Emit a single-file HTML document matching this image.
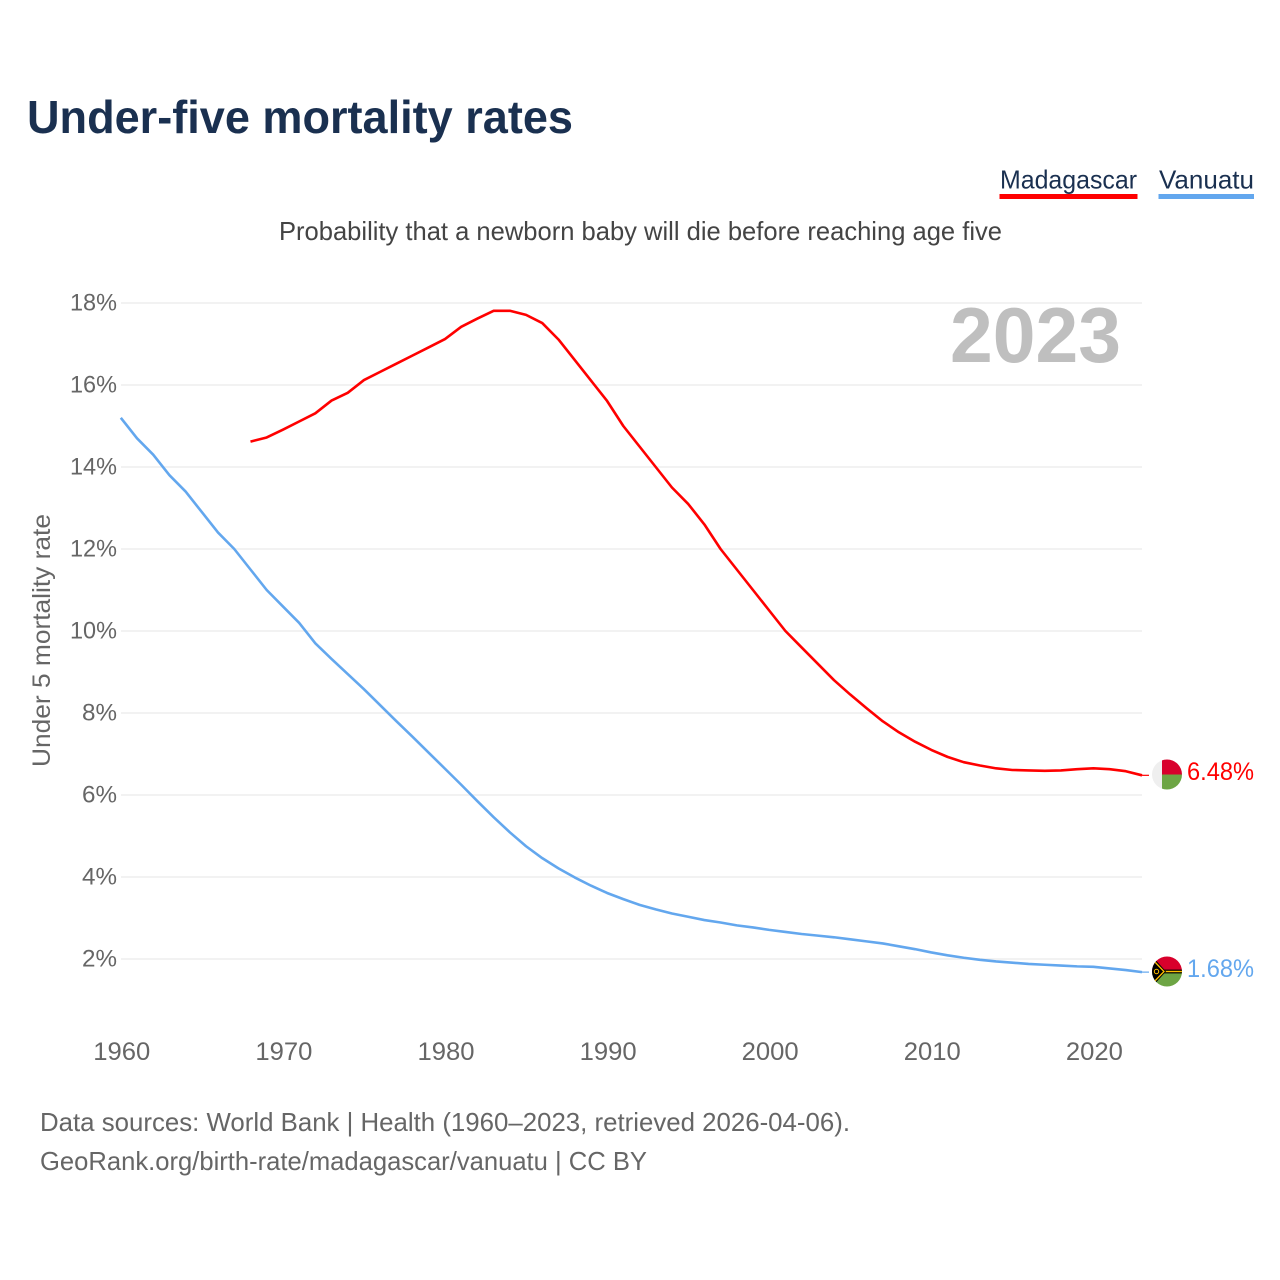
<!DOCTYPE html>
<html lang="en">
<head>
<meta charset="utf-8">
<title>Under-five mortality rates</title>
<style>
html,body{margin:0;padding:0;background:#fff;}
svg{display:block;font-family:"Liberation Sans",Arial,sans-serif;}
</style>
</head>
<body>
<svg id="chart" xmlns="http://www.w3.org/2000/svg" width="1280" height="1280" viewBox="0 0 1280 1280">
  <rect x="0" y="0" width="1280" height="1280" fill="#ffffff"/>
  <text x="27" y="133" font-size="46" font-weight="700" fill="#1a3050" textLength="546" lengthAdjust="spacingAndGlyphs">Under-five mortality rates</text>

  <text x="1000" y="188.5" font-size="26" fill="#1a3050" textLength="137" lengthAdjust="spacingAndGlyphs">Madagascar</text>
  <rect x="999.5" y="194" width="138" height="5" fill="#ff0000"/>
  <text x="1159" y="188.5" font-size="26" fill="#1a3050" textLength="95" lengthAdjust="spacingAndGlyphs">Vanuatu</text>
  <rect x="1158.5" y="194" width="95.5" height="5" fill="#63a7ee"/>

  <text x="279" y="240" font-size="26" fill="#444444" textLength="723" lengthAdjust="spacingAndGlyphs">Probability that a newborn baby will die before reaching age five</text>

  <g id="grid"></g>
  <g id="yticks"></g>
  <g id="xticks"></g>

  <text transform="translate(50,767) rotate(-90)" x="0" y="0" font-size="25" fill="#666666" textLength="253" lengthAdjust="spacingAndGlyphs">Under 5 mortality rate</text>

  <text x="950" y="362" font-size="78" font-weight="700" fill="#bfbfbf" textLength="171" lengthAdjust="spacingAndGlyphs">2023</text>

  <path id="line-madagascar" fill="none" stroke="#ff0000" stroke-width="2.6" stroke-linejoin="round"/>
  <path id="line-vanuatu" fill="none" stroke="#63a7ee" stroke-width="2.6" stroke-linejoin="round"/>
  <line id="connector-madagascar" stroke="#ff0000" stroke-width="1.2"/>
  <line id="connector-vanuatu" stroke="#63a7ee" stroke-width="1.2"/>

  <defs>
    <clipPath id="clip-mg"><circle cx="1167" cy="774.5" r="15"/></clipPath>
    <clipPath id="clip-vu"><circle cx="1167" cy="971.5" r="15"/></clipPath>
  </defs>

  <g clip-path="url(#clip-mg)">
    <rect x="1152" y="759" width="10" height="31" fill="#efefef"/>
    <rect x="1162" y="759" width="20" height="15.5" fill="#d8002c"/>
    <rect x="1162" y="774.5" width="20" height="16" fill="#6da544"/>
  </g>
  <g clip-path="url(#clip-vu)">
    <rect x="1152" y="956" width="30" height="15.5" fill="#d8002c"/>
    <rect x="1152" y="971.5" width="30" height="16" fill="#6da544"/>
    <rect x="1160" y="969.6" width="22" height="3.8" fill="#000000"/>
    <rect x="1164" y="970.8" width="18" height="1.4" fill="#ffc000"/>
    <polygon points="1152,956 1166,971.5 1152,987" fill="#000000"/>
    <polyline points="1153,960 1164,971.5 1153,983" fill="none" stroke="#ffc000" stroke-width="1.3"/>
    <circle cx="1156.5" cy="971.5" r="2.2" fill="none" stroke="#ffc000" stroke-width="1"/>
  </g>

  <text id="label-madagascar" x="1187" y="780" font-size="25" fill="#ff0000" textLength="67" lengthAdjust="spacingAndGlyphs">6.48%</text>
  <text id="label-vanuatu" x="1187" y="977" font-size="25" fill="#63a7ee" textLength="67" lengthAdjust="spacingAndGlyphs">1.68%</text>

  <text x="40" y="1131" font-size="26" fill="#666666" textLength="810" lengthAdjust="spacingAndGlyphs">Data sources: World Bank | Health (1960–2023, retrieved 2026-04-06).</text>
  <text x="40" y="1170" font-size="26" fill="#666666" textLength="607" lengthAdjust="spacingAndGlyphs">GeoRank.org/birth-rate/madagascar/vanuatu | CC BY</text>
</svg>
<script>
const yTickValues = [2, 4, 6, 8, 10, 12, 14, 16, 18];
const xTickYears = [1960, 1970, 1980, 1990, 2000, 2010, 2020];

const madagascarStartYear = 1968;
const madagascarValues = [
  14.62, 14.72, 14.91, 15.11, 15.31, 15.62, 15.81, 16.12, 16.32, 16.52, 16.72, 16.92, 17.12,
  17.42, 17.62, 17.81, 17.81, 17.71, 17.51, 17.11, 16.61, 16.11, 15.61, 15.0, 14.5, 14.0,
  13.5, 13.1, 12.6, 12.0, 11.5, 11.0, 10.5, 10.0, 9.6, 9.2, 8.8, 8.45, 8.12, 7.8, 7.53,
  7.3, 7.1, 6.93, 6.8, 6.72, 6.65, 6.61, 6.6, 6.59, 6.6, 6.63, 6.65, 6.63, 6.58, 6.48
];

const vanuatuStartYear = 1960;
const vanuatuValues = [
  15.2, 14.7, 14.3, 13.8, 13.4, 12.9, 12.4, 12.0, 11.5, 11.0, 10.6, 10.2, 9.7, 9.32, 8.95,
  8.58, 8.19, 7.8, 7.42, 7.03, 6.64, 6.25, 5.85, 5.46, 5.09, 4.75, 4.46, 4.21, 3.99, 3.79,
  3.61, 3.46, 3.32, 3.21, 3.11, 3.03, 2.95, 2.89, 2.82, 2.77, 2.71, 2.66, 2.61, 2.57, 2.53,
  2.48, 2.43, 2.38, 2.31, 2.24, 2.16, 2.09, 2.03, 1.98, 1.94, 1.91, 1.88, 1.86, 1.84,
  1.82, 1.81, 1.77, 1.73, 1.68
];

const SVG_NS = 'http://www.w3.org/2000/svg';

function xScale(year) {
  return 120.8 + (year - 1960) * 16.21;
}

function yScale(value) {
  return 959 - (value - 2) * 41;
}

function seriesPath(startYear, values) {
  return values.map(function (v, i) {
    return (i === 0 ? 'M' : 'L') + xScale(startYear + i).toFixed(2) + ' ' + yScale(v).toFixed(2);
  }).join(' ');
}

const grid = document.getElementById('grid');
const yticks = document.getElementById('yticks');
const xticks = document.getElementById('xticks');

yTickValues.forEach(function (v) {
  const line = document.createElementNS(SVG_NS, 'line');
  
  
  line.setAttribute('x1', 121);
  line.setAttribute('x2', 1142);
  line.setAttribute('y1', yScale(v));
  line.setAttribute('y2', yScale(v));
  line.setAttribute('stroke', '#eeeeee');
  line.setAttribute('stroke-width', 1.6);
  grid.appendChild(line);

  const label = document.createElementNS(SVG_NS, 'text');
  
  
  label.setAttribute('x', 117);
  label.setAttribute('y', yScale(v) + 7.5);
  label.setAttribute('text-anchor', 'end');
  label.setAttribute('font-size', 24);
  label.setAttribute('fill', '#666666');
  label.setAttribute('textLength', v >= 10 ? 47 : 35);
  label.setAttribute('lengthAdjust', 'spacingAndGlyphs');
  label.textContent = v + '%';
  yticks.appendChild(label);
});

xTickYears.forEach(function (year) {
  const label = document.createElementNS(SVG_NS, 'text');
  
  
  label.setAttribute('x', xScale(year) + 1);
  label.setAttribute('y', 1060);
  label.setAttribute('text-anchor', 'middle');
  label.setAttribute('font-size', 25);
  label.setAttribute('fill', '#666666');
  label.setAttribute('textLength', 57);
  label.setAttribute('lengthAdjust', 'spacingAndGlyphs');
  label.textContent = String(year);
  xticks.appendChild(label);
});

document.getElementById('line-madagascar').setAttribute('d', seriesPath(madagascarStartYear, madagascarValues));
document.getElementById('line-vanuatu').setAttribute('d', seriesPath(vanuatuStartYear, vanuatuValues));

function placeConnector(id, startYear, values) {
  const last = values[values.length - 1];
  const el = document.getElementById(id);
  el.setAttribute('x1', xScale(startYear + values.length - 1));
  el.setAttribute('x2', 1149);
  el.setAttribute('y1', yScale(last));
  el.setAttribute('y2', yScale(last));
}

placeConnector('connector-madagascar', madagascarStartYear, madagascarValues);
placeConnector('connector-vanuatu', vanuatuStartYear, vanuatuValues);
</script>
</body>
</html>
